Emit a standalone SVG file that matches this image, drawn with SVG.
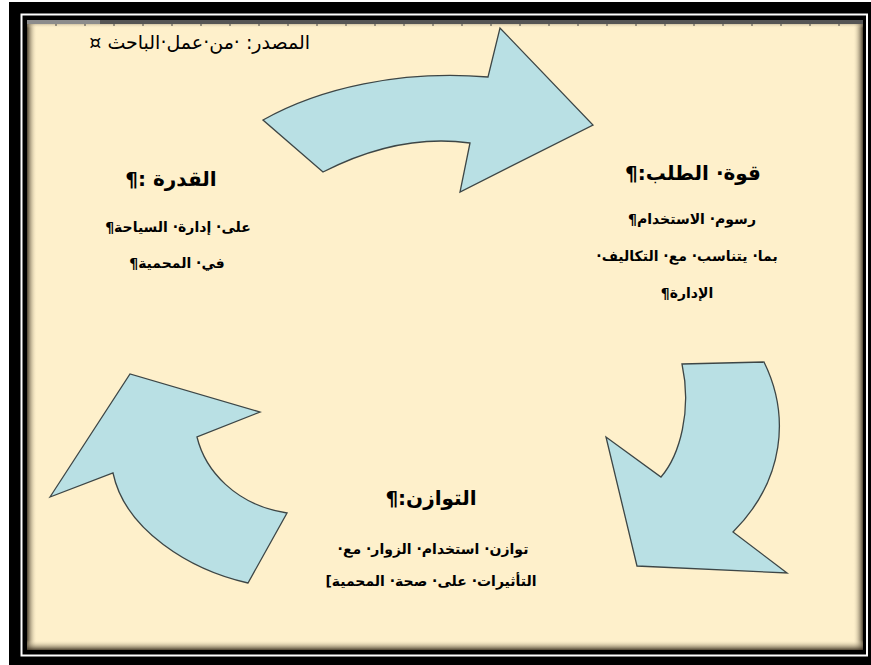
<svg xmlns="http://www.w3.org/2000/svg" width="871" height="665" viewBox="0 0 871 665">
  <defs>
    <style>
      .arrow { fill: #b9e0e4; stroke: #3d4646; stroke-width: 1.3; stroke-linejoin: miter; }
      .ar { font-family: "DejaVu Sans", "Noto Sans", sans-serif; fill: #000; direction: rtl; text-anchor: middle; }
      .head { font-size: 20px; font-weight: bold; }
      .body { font-size: 14px; font-weight: bold; }
      .src { font-size: 19px; text-anchor: start; }
    </style>
    <linearGradient id="shL" x1="0" y1="0" x2="1" y2="0">
      <stop offset="0" stop-color="#3a3020" stop-opacity="0.9"/>
      <stop offset="1" stop-color="#fef0cb" stop-opacity="0"/>
    </linearGradient>
    <linearGradient id="shR" x1="1" y1="0" x2="0" y2="0">
      <stop offset="0" stop-color="#3a3020" stop-opacity="0.9"/>
      <stop offset="1" stop-color="#fef0cb" stop-opacity="0"/>
    </linearGradient>
    <linearGradient id="shT" x1="0" y1="0" x2="0" y2="1">
      <stop offset="0" stop-color="#3a3020" stop-opacity="0.9"/>
      <stop offset="1" stop-color="#fef0cb" stop-opacity="0"/>
    </linearGradient>
    <linearGradient id="shB" x1="0" y1="1" x2="0" y2="0">
      <stop offset="0" stop-color="#3a3020" stop-opacity="0.9"/>
      <stop offset="1" stop-color="#fef0cb" stop-opacity="0"/>
    </linearGradient>
  </defs>

  <!-- frame -->
  <rect x="0" y="0" width="871" height="665" fill="#ffffff"/>
  <rect x="9" y="2" width="862" height="663" fill="#000000"/>
  <rect x="21.5" y="14.5" width="845.5" height="641" fill="none" stroke="#ffffff" stroke-width="2"/>
  <rect x="27" y="20" width="836" height="630" fill="#fef0cb"/>
  <rect x="27" y="20" width="10" height="630" fill="url(#shL)"/>
  <rect x="853" y="20" width="10" height="630" fill="url(#shR)"/>
  <rect x="27" y="640" width="836" height="10" fill="url(#shB)"/>
  <rect x="27" y="20" width="836" height="8" fill="url(#shT)"/>
  <rect x="27" y="20" width="836" height="4" fill="#555555"/>
  <rect x="27" y="20" width="73" height="4" fill="#8c8c8c"/>
  <path d="M56 24v2M85 24v2M114 24v2M143 24v2M172 24v2M201 24v2M230 24v2M259 24v2M288 24v2M317 24v2M346 24v2M375 24v2M404 24v2M433 24v2M462 24v2M491 24v2M520 24v2M549 24v2M578 24v2M607 24v2M636 24v2M665 24v2M694 24v2M723 24v2M752 24v2M781 24v2M810 24v2M839 24v2" stroke="#444" stroke-width="1"/>

  <!-- source note -->
  <text class="ar src" x="310" y="49">المصدر: ·من·عمل·الباحث ¤</text>

  <!-- cycle arrows -->
  <g id="connectors">
    <g id="arrow-top">
      <path class="arrow" d="M263,120 C320,88 400,70 488,77 L500,28 L593,125 L460,192 L470,143 C420,136 370,148 323,172 Z"/>
    </g>
    <g id="arrow-right">
      <path class="arrow" d="M682,364 L764,362 C790,415 785,480 733,532 L787,573 L637,566 L606,437 L661,477 C680,455 692,410 682,364 Z"/>
    </g>
    <g id="arrow-left">
      <path class="arrow" d="M50,497 L130,374 L260,412 L197,437 C205,470 235,505 287,513 L248,583 C190,570 125,530 113,473 Z"/>
    </g>
  </g>

  <g id="node-capacity">
    <text class="ar head" x="171" y="186">القدرة :¶</text>
    <text class="ar body" x="178" y="232">على· إدارة· السياحة¶</text>
    <text class="ar body" x="177" y="268">في· المحمية¶</text>
  </g>

  <g id="node-demand">
    <text class="ar head" x="693" y="180">قوة· الطلب:¶</text>
    <text class="ar body" x="692" y="224">رسوم· الاستخدام¶</text>
    <text class="ar body" x="687" y="261">بما· يتناسب· مع· التكاليف·</text>
    <text class="ar body" x="687" y="298">الإدارة¶</text>
  </g>

  <g id="node-balance">
    <text class="ar head" x="431" y="505">التوازن:¶</text>
    <text class="ar body" x="433" y="554">توازن· استخدام· الزوار· مع·</text>
    <text class="ar body" x="431" y="586">التأثيرات· على· صحة· المحمية]</text>
  </g>
</svg>
